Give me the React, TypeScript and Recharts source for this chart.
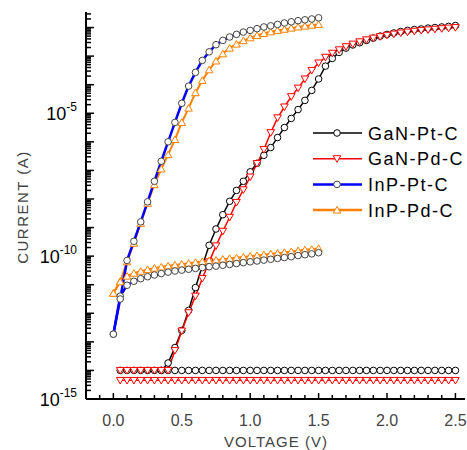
import { LineChart, Line, XAxis, YAxis, Legend } from "recharts"

const FONT = "'Liberation Sans', Arial, sans-serif"

// voltages (V)
const GAN_V = [0.05, 0.1, 0.15, 0.2, 0.25, 0.3, 0.35, 0.4, 0.45, 0.5, 0.55, 0.6, 0.65, 0.7, 0.75, 0.8, 0.85, 0.9, 0.95, 1.0,
  1.05, 1.1, 1.15, 1.2, 1.25, 1.3, 1.35, 1.4, 1.45, 1.5, 1.55, 1.6, 1.65, 1.7, 1.75, 1.8, 1.85, 1.9, 1.95, 2.0,
  2.05, 2.1, 2.15, 2.2, 2.25, 2.3, 2.35, 2.4, 2.45, 2.5]
const GAN_PT_FWD_V = GAN_V.slice(6)
const INP_V = [0, 0.05, 0.1, 0.15, 0.2, 0.25, 0.3, 0.35, 0.4, 0.45, 0.5, 0.55, 0.6, 0.65, 0.7, 0.75, 0.8, 0.85, 0.9, 0.95,
  1.0, 1.05, 1.1, 1.15, 1.2, 1.25, 1.3, 1.35, 1.4, 1.45, 1.5]

// currents as log10(A)
const GAN_PT_FLAT = [-14, -14, -14, -14, -14, -14, -14, -14, -14, -14, -14, -14, -14, -14, -14, -14, -14, -14, -14, -14,
  -14, -14, -14, -14, -14, -14, -14, -14, -14, -14, -14, -14, -14, -14, -14, -14, -14, -14, -14, -14,
  -14, -14, -14, -14, -14, -14, -14, -14, -14, -14]
const GAN_PT_FWD = [-14.0, -13.74, -13.2, -12.6, -11.9, -11.1, -10.35, -9.62, -9.05, -8.55,
  -8.08, -7.7, -7.38, -7.05, -6.75, -6.47, -6.2, -5.85, -5.5, -5.18,
  -4.87, -4.55, -4.2, -3.8, -3.35, -3.08, -2.87, -2.72, -2.61, -2.53,
  -2.45, -2.37, -2.3, -2.24, -2.19, -2.14, -2.1, -2.07, -2.05, -2.02,
  -2.0, -1.98, -1.96, -1.93]
const GAN_PD_LOW = [-14.35, -14.35, -14.35, -14.35, -14.35, -14.35, -14.35, -14.35, -14.35, -14.35,
  -14.35, -14.35, -14.35, -14.35, -14.35, -14.35, -14.35, -14.35, -14.35, -14.35,
  -14.35, -14.35, -14.35, -14.35, -14.35, -14.35, -14.35, -14.35, -14.35, -14.35,
  -14.35, -14.35, -14.35, -14.35, -14.35, -14.35, -14.35, -14.35, -14.35, -14.35,
  -14.35, -14.35, -14.35, -14.35, -14.35, -14.35, -14.35, -14.35, -14.35, -14.35]
const GAN_PD_FWD = [-14, -14, -14, -14, -14, -14, -14, -14,
  -13.3, -12.62, -11.98, -11.4, -10.78, -10.2, -9.64, -9.13, -8.64, -8.12,
  -7.68, -7.23, -6.76, -6.27, -5.68, -5.16, -4.78, -4.42, -4.12, -3.8,
  -3.5, -3.24, -3.04, -2.9, -2.78, -2.67, -2.58, -2.5, -2.43, -2.37,
  -2.32, -2.27, -2.23, -2.19, -2.16, -2.13, -2.1, -2.08, -2.06, -2.04,
  -2.02, -2.0]
const INP_PT_STEEP = [-12.73, -11.5, -10.15, -9.48, -8.8, -8.1, -7.38, -6.68, -6.0, -5.32, -4.65, -4.05, -3.57, -3.15, -2.85,
  -2.6, -2.45, -2.33, -2.24, -2.16, -2.1, -2.04, -1.98, -1.94, -1.89, -1.84, -1.8, -1.76, -1.73, -1.7, -1.66]
const INP_PT_SLOW = [-12.73, -11.4, -11.02, -10.88, -10.79, -10.72, -10.66, -10.61, -10.56, -10.52, -10.49, -10.46, -10.43,
  -10.4, -10.37, -10.35, -10.32, -10.29, -10.26, -10.23, -10.2, -10.17, -10.14, -10.11, -10.08, -10.05, -10.02, -9.98,
  -9.95, -9.92, -9.88]
const INP_PD_STEEP = [-11.3, -10.9, -10.2, -9.55, -8.85, -8.15, -7.5, -6.95, -6.45, -5.92, -5.32, -4.82, -4.28, -3.85, -3.48,
  -3.17, -2.92, -2.72, -2.58, -2.46, -2.36, -2.28, -2.21, -2.15, -2.1, -2.06, -2.02, -1.98, -1.95, -1.92, -1.89]
const INP_PD_SLOW = [-11.3, -10.88, -10.7, -10.6, -10.53, -10.47, -10.42, -10.38, -10.34, -10.31, -10.28, -10.25, -10.22,
  -10.19, -10.16, -10.14, -10.11, -10.08, -10.06, -10.03, -10.0, -9.98, -9.95, -9.92, -9.9, -9.87, -9.84, -9.81,
  -9.78, -9.76, -9.73]

const X_TICKS = [-0.1, 0, 0.1, 0.2, 0.3, 0.4, 0.5, 0.6, 0.7, 0.8, 0.9, 1.0, 1.1, 1.2, 1.3, 1.4, 1.5, 1.6, 1.7, 1.8, 1.9,
  2.0, 2.1, 2.2, 2.3, 2.4, 2.5]
const Y_DECADES = [-15, -14, -13, -12, -11, -10, -9, -8, -7, -6, -5, -4, -3, -2]
const Y_LABELED = [-15, -10, -5]
const Y_MAX = 0.035
const Y_TICKS = Y_DECADES.flatMap((e) => [1, 2, 3, 4, 5, 6, 7, 8, 9].map((m) => m * Math.pow(10, e))).filter((t) => t <= Y_MAX)

const LEGEND_ITEMS = [
  { name: "GaN-Pt-C", color: "#000000", marker: "circle", markerStroke: "#000000" },
  { name: "GaN-Pd-C", color: "#ff0000", marker: "down", markerStroke: "#ff0000" },
  { name: "InP-Pt-C", color: "#0000ff", marker: "circle", markerStroke: "#444444" },
  { name: "InP-Pd-C", color: "#ff8000", marker: "up", markerStroke: "#ff8000" },
]

const toSeries = (volts: number[], logs: number[]) => volts.map((v, k) => ({ v, i: Math.pow(10, logs[k]) }))

function markerShape(kind: string, cx: number, cy: number, stroke: string, key?: any) {
  if (kind === "circle") return <circle key={key} cx={cx} cy={cy} r={3.3} stroke={stroke} strokeWidth={1} fill="#fff" />
  if (kind === "down")
    return <polygon key={key} points={`${cx - 3.8},${cy - 3} ${cx + 3.8},${cy - 3} ${cx},${cy + 3.6}`} stroke={stroke} strokeWidth={1} fill="#fff" />
  return <polygon key={key} points={`${cx - 3.8},${cy + 3} ${cx + 3.8},${cy + 3} ${cx},${cy - 3.6}`} stroke={stroke} strokeWidth={1} fill="#fff" />
}

const dotFn = (kind: string, stroke: string) => (p: any) =>
  p.cx == null || p.cy == null ? <g key={p.index} /> : markerShape(kind, p.cx, p.cy, stroke, p.index)

const XTick = (props: any) => {
  const { x, y, payload } = props
  const v = payload.value as number
  const major = Math.abs(v * 2 - Math.round(v * 2)) < 1e-6
  return (
    <g>
      <line x1={x} x2={x} y1={y} y2={y - (major ? 6 : 4)} stroke="#000" strokeWidth={1.5} />
      {major && (
        <text x={x} y={y + 27} textAnchor="middle" fontSize={16} fill="#444" fontFamily={FONT}>{v.toFixed(1)}</text>
      )}
    </g>
  )
}

const YTick = (props: any) => {
  const { x, y, payload } = props
  const val = payload.value as number
  const e = Math.round(Math.log10(val))
  const major = Math.abs(val / Math.pow(10, e) - 1) < 1e-6
  const labeled = major && Y_LABELED.includes(e)
  return (
    <g>
      <line x1={x} x2={x + (major ? 8 : 5)} y1={y} y2={y} stroke="#000" strokeWidth={1.5} />
      {labeled && (
        <text x={x - 9} y={y + 7} textAnchor="end" fontFamily={FONT} fill="#000">
          <tspan fontSize={18}>10</tspan>
          <tspan fontSize={12} dy={-9}>{e}</tspan>
        </text>
      )}
    </g>
  )
}

const renderLegend = () => (
  <svg width={165} height={110}>
    {LEGEND_ITEMS.map((it, k) => {
      const cy = 15 + k * 25.7
      return (
        <g key={it.name}>
          <line x1={8} x2={57} y1={cy} y2={cy} stroke={it.color} strokeWidth={it.name.startsWith("InP") ? 2.5 : 1.5} />
          {markerShape(it.marker, 32, cy, it.markerStroke)}
          <text x={63} y={cy + 6.5} fontSize={18} letterSpacing={1.5} fontFamily={FONT} fill="#000">{it.name}</text>
        </g>
      )
    })}
  </svg>
)

export default function App() {
  const ganPtFlat = toSeries(GAN_V, GAN_PT_FLAT)
  const ganPtFwd = toSeries(GAN_PT_FWD_V, GAN_PT_FWD)
  const ganPdLow = toSeries(GAN_V, GAN_PD_LOW)
  const ganPdFwd = toSeries(GAN_V, GAN_PD_FWD)
  const inpPtSteep = toSeries(INP_V, INP_PT_STEEP)
  const inpPtSlow = toSeries(INP_V, INP_PT_SLOW)
  const inpPdSteep = toSeries(INP_V, INP_PD_STEEP)
  const inpPdSlow = toSeries(INP_V, INP_PD_SLOW)

  return (
    <div style={{ position: "absolute", left: 0, top: 0, width: 467, height: 450, background: "#fff", fontFamily: FONT }}>
      <LineChart width={467} height={450} margin={{ top: 12, right: 2, bottom: 0, left: 0 }}>
        <XAxis type="number" dataKey="v" domain={[-0.2, 2.57]} ticks={X_TICKS} interval={0} allowDataOverflow
          height={51} tickSize={0} tickMargin={0} tickLine={false} tick={XTick}
          axisLine={{ stroke: "#000", strokeWidth: 2 }}
          label={() => <text x={276} y={447} textAnchor="middle" fontSize={15} letterSpacing={1} fill="#444" fontFamily={FONT}>VOLTAGE (V)</text>} />
        <YAxis type="number" scale="log" domain={[1e-15, Y_MAX]} ticks={Y_TICKS} interval={0} allowDataOverflow
          width={86} tickSize={0} tickMargin={0} tickLine={false} tick={YTick}
          axisLine={{ stroke: "#000", strokeWidth: 2 }}
          label={() => <text x={22} y={207} transform="rotate(-90 22 207)" textAnchor="middle" dominantBaseline="central" fontSize={15} letterSpacing={1.5} fill="#444" fontFamily={FONT}>CURRENT (A)</text>} />
        <Legend content={renderLegend} layout="horizontal" verticalAlign="middle" align="center"
          wrapperStyle={{ position: "absolute", left: 305, top: 118, width: 165, height: 110 }} />

        <Line data={ganPtFlat} dataKey="i" stroke="#000" strokeWidth={1.3} dot={dotFn("circle", "#000")} isAnimationActive={false} />
        <Line data={ganPtFwd} dataKey="i" stroke="#000" strokeWidth={1.5} dot={dotFn("circle", "#000")} isAnimationActive={false} />
        <Line data={ganPdLow} dataKey="i" stroke="#ff0000" strokeWidth={1.3} dot={dotFn("down", "#ff0000")} isAnimationActive={false} />
        <Line data={ganPdFwd} dataKey="i" stroke="#ff0000" strokeWidth={1.5} dot={dotFn("down", "#ff0000")} isAnimationActive={false} />

        <Line data={inpPdSlow} dataKey="i" stroke="none" dot={dotFn("up", "#ff8000")} isAnimationActive={false} />
        <Line data={inpPdSteep} dataKey="i" stroke="none" dot={dotFn("up", "#ff8000")} isAnimationActive={false} />
        <Line data={inpPdSlow} dataKey="i" stroke="#ff8000" strokeWidth={2} dot={false} isAnimationActive={false} />
        <Line data={inpPdSteep} dataKey="i" stroke="#ff8000" strokeWidth={2} dot={false} isAnimationActive={false} />

        <Line data={inpPtSlow} dataKey="i" stroke="none" dot={dotFn("circle", "#444")} isAnimationActive={false} />
        <Line data={inpPtSteep} dataKey="i" stroke="none" dot={dotFn("circle", "#444")} isAnimationActive={false} />
        <Line data={inpPtSlow} dataKey="i" stroke="#0000ff" strokeWidth={2.5} dot={false} isAnimationActive={false} />
        <Line data={inpPtSteep} dataKey="i" stroke="#0000ff" strokeWidth={2.5} dot={false} isAnimationActive={false} />
      </LineChart>
    </div>
  )
}
